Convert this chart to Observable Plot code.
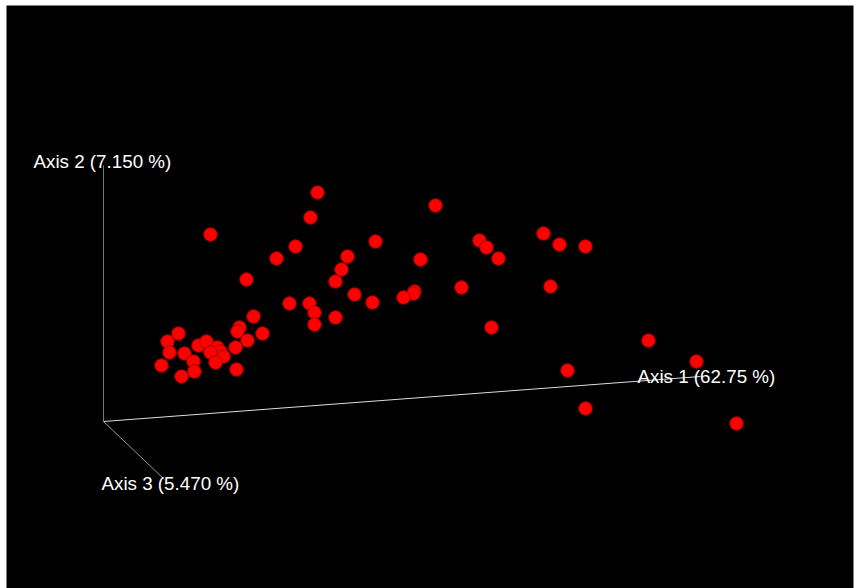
<!DOCTYPE html>
<html>
<head>
<meta charset="utf-8">
<script src="https://cdn.jsdelivr.net/npm/d3@7"></script>
<script src="https://cdn.jsdelivr.net/npm/@observablehq/plot@0.6"></script>
<style>
  html, body { margin: 0; padding: 0; background: #fff; }
  #chart svg { display: block; }
</style>
</head>
<body>
<div id="chart"></div>
<script>
// Projected (screen-space) coordinates of the samples
const sampleX = [210, 317, 310, 435, 246, 276, 295, 375, 347, 341, 335, 354, 420, 479, 486, 498,
  543, 559, 585, 550, 461, 414, 413, 403, 372, 289, 309, 314, 314, 335, 491,
  648, 696, 567, 585, 736,
  253, 239, 237, 262, 247, 235, 236, 178, 167, 169, 184, 198, 206, 217, 220, 223, 210, 215, 193, 194, 181, 161];
const sampleY = [234, 192, 217, 205, 279, 258, 246, 241, 256, 269, 281, 294, 259, 240, 247, 258,
  233, 244, 246, 286, 287, 291, 293, 297, 302, 303, 303, 312, 324, 317, 327,
  340, 361, 370, 408, 423,
  316, 327, 331, 333, 340, 347, 369, 333, 341, 352, 353, 345, 341, 347, 351, 356, 352, 362, 361, 371, 376, 365];

// Axis labels
const axisNames = ["Axis 1 (62.75 %)", "Axis 2 (7.150 %)", "Axis 3 (5.470 %)"];
// Projected axis origin and ends
const axisOrigin = [103, 421];
const axisEndX = [700, 103, 164];
const axisEndY = [376, 165, 479];
const axisColors = ["#dddddd", "#777777", "#999999"];
const labelX = [637, 33, 101];
const labelY = [376, 161, 483];

const samples = sampleX.map((x, i) => ({x, y: sampleY[i]}));
const axes = axisNames.map((name, i) => ({
  name, x1: axisOrigin[0], y1: axisOrigin[1], x2: axisEndX[i], y2: axisEndY[i],
  color: axisColors[i], lx: labelX[i], ly: labelY[i]
}));

const chart = Plot.plot({
  width: 856,
  height: 588,
  marginLeft: 6,
  marginTop: 5,
  marginRight: 3,
  marginBottom: 0,
  style: {background: "#ffffff", fontFamily: "'Liberation Sans', Arial, sans-serif"},
  x: {domain: [6, 853], axis: null},
  y: {domain: [588, 5], axis: null},
  marks: [
    Plot.frame({fill: "#000000", stroke: null}),
    Plot.link(axes, {x1: "x1", y1: "y1", x2: "x2", y2: "y2", stroke: "color", strokeWidth: 1}),
    Plot.dot(samples, {x: "x", y: "y", r: 6.8, fill: "#ff0000", stroke: "#a00000", strokeWidth: 1}),
    Plot.text(axes, {x: "lx", y: "ly", text: "name", textAnchor: "start", fill: "#ffffff",
      fontSize: 18.8, fontFamily: "'Liberation Sans', Arial, sans-serif"})
  ]
});
document.getElementById("chart").appendChild(chart);
</script>
</body>
</html>
